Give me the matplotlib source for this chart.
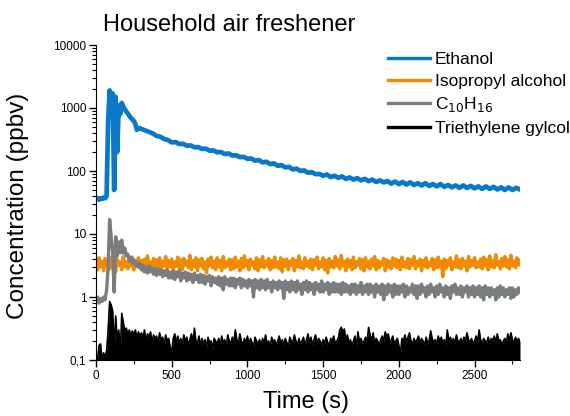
import numpy as np
import matplotlib
matplotlib.use("Agg")
import matplotlib.pyplot as plt
from matplotlib.ticker import LogLocator, FixedLocator, MultipleLocator, FuncFormatter

plt.rcParams['font.family'] = ['Liberation Sans', 'DejaVu Sans']

# ethanol: 10 s steps through the release, 25 s steps afterwards
time_eth = np.concatenate([np.arange(0, 301, 10), np.arange(325, 2801, 25)])
# the other three traces: 10 s steps
time_s = np.arange(0, 2801, 10)

ethanol = [36, 37, 35, 37, 36, 38, 37, 40, 600, 1900, 900, 1700, 50, 1500, 200, 1100,
           800, 1200, 1050, 950, 880, 820, 760, 700, 660, 620, 560, 450, 470, 480, 465,
           440, 415, 395, 360, 350, 322, 310, 285,
           288, 268, 270, 252, 255, 238, 240, 224, 226, 210, 212, 198, 200, 186, 190, 176, 178, 166, 168, 156,
           158, 146, 149, 137, 140, 129, 132, 121, 124, 114, 116, 106, 109, 100, 102, 94, 96, 89, 90, 84,
           88, 80, 84, 78, 82, 75, 79, 73, 77, 71, 75, 69, 73, 67, 71, 66, 69, 63, 68, 62,
           67, 61, 66, 60, 64, 59, 64, 58, 62, 57, 62, 56, 60, 55, 59, 54, 59, 54, 58, 53,
           57, 52, 57, 52, 56, 51, 55, 50, 55, 50, 54, 51]

isopropyl = [
    3.9, 2.7, 4.2, 3.0, 3.7, 2.6, 4.1, 3.1, 3.5, 2.8,
    4.3, 2.9, 3.8, 2.5, 4.0, 3.2, 3.6, 2.7, 4.4, 3.0,
    3.6, 2.8, 4.1, 3.1, 4.3, 2.7, 3.7, 3.0, 4.2, 2.9,
    3.8, 2.6, 4.0, 3.2, 4.5, 2.8, 3.6, 3.0, 4.1, 2.7,
    3.9, 2.9, 4.2, 2.6, 3.7, 3.1, 4.4, 2.8, 3.8, 3.0,
    4.0, 2.5, 3.6, 3.1, 4.3, 2.8, 3.9, 2.7, 4.1, 3.2,
    3.7, 2.9, 4.6, 2.7, 3.8, 3.0, 4.2, 2.6, 3.9, 3.1,
    4.1, 2.8, 3.6, 2.4, 4.0, 3.1, 4.3, 2.9, 3.7, 2.7,
    4.2, 3.0, 3.8, 2.6, 4.4, 2.9, 3.6, 3.1, 4.0, 2.7,
    3.9, 2.8, 4.3, 3.0, 3.7, 2.6, 4.1, 2.9, 4.5, 3.1,
    3.8, 2.7, 4.0, 3.2, 3.6, 2.8, 4.2, 2.6, 3.9, 3.0,
    4.4, 2.9, 3.7, 3.1, 4.1, 2.7, 3.8, 2.9, 4.3, 3.0,
    3.6, 2.8, 4.2, 2.5, 3.9, 3.1, 4.0, 2.7, 3.7, 3.2,
    4.1, 2.6, 3.8, 3.0, 4.5, 2.9, 3.6, 2.8, 4.2, 3.1,
    3.7, 2.9, 4.0, 2.7, 3.9, 3.2, 4.3, 2.8, 3.6, 3.0,
    4.2, 2.7, 3.8, 2.4, 4.1, 3.0, 3.7, 2.9, 4.4, 3.1,
    3.9, 2.8, 4.6, 3.1, 3.7, 2.6, 4.0, 3.0, 3.8, 2.7,
    4.3, 2.9, 3.6, 3.2, 4.1, 2.8, 3.9, 2.6, 4.2, 3.0,
    3.7, 2.8, 4.0, 3.1, 4.4, 2.7, 3.8, 2.9, 3.6, 3.2,
    4.1, 2.6, 3.9, 3.0, 3.7, 2.8, 4.2, 3.1, 4.0, 2.9,
    3.8, 2.7, 4.3, 3.0, 3.6, 2.9, 4.1, 2.8, 3.9, 3.2,
    4.4, 2.8, 3.7, 3.1, 4.0, 2.6, 3.8, 3.0, 4.2, 2.9,
    3.6, 3.1, 4.1, 2.7, 3.9, 2.9, 4.3, 3.0, 3.7, 2.1,
    4.0, 2.8, 3.8, 3.2, 4.2, 2.7, 3.6, 3.0, 4.5, 2.9,
    3.9, 2.8, 4.1, 3.1, 3.7, 2.6, 4.4, 3.0, 3.8, 3.2,
    4.2, 2.9, 3.6, 3.0, 4.0, 2.8, 4.3, 3.1, 3.9, 2.7,
    4.5, 3.0, 3.8, 2.9, 4.7, 3.2, 3.7, 2.8, 4.1, 3.1,
    4.4, 3.0, 3.9, 2.8, 4.6, 3.1, 3.7, 2.9, 4.2, 3.2,
    3.8]

c10h16 = [
    0.85, 1.0, 0.8, 0.95, 0.85, 1.0, 0.9, 1.3, 3.0, 17,
    9, 5, 1.2, 9, 4.5, 7.5, 5, 8, 5, 6,
    4.5, 4.8, 3.8, 4.3, 3.5, 3.9, 3.2, 3.6, 3.0, 3.4,
    2.7, 3.2, 2.5, 3.0, 2.4, 3.1, 2.5, 2.9, 2.3, 2.8,
    2.2, 2.8, 2.3, 2.7, 2.1, 2.6, 2.2, 2.7, 2.0, 2.5,
    2.0, 2.6, 1.9, 2.5, 2.1, 2.6, 1.8, 2.4, 2.0, 2.5,
    1.8, 2.4, 1.9, 2.3, 1.7, 2.4, 1.9, 2.2, 1.7, 2.3,
    1.7, 2.2, 1.6, 2.1, 1.8, 2.2, 1.5, 2.1, 1.7, 2.0,
    1.6, 2.1, 1.5, 2.0, 1.3, 2.1, 1.6, 1.9, 1.5, 2.0,
    1.5, 2.0, 1.4, 1.9, 1.6, 2.0, 1.4, 1.9, 1.5, 1.8,
    1.4, 1.9, 1.5, 1.8, 1.0, 1.9, 1.4, 1.8, 1.3, 1.9,
    1.4, 1.8, 1.3, 1.9, 1.4, 1.7, 1.2, 1.8, 1.4, 1.7,
    1.3, 1.8, 1.4, 1.7, 0.95, 1.8, 1.3, 1.7, 1.2, 1.8,
    1.3, 1.7, 1.2, 1.8, 1.3, 1.6, 1.1, 1.7, 1.3, 1.8,
    1.2, 1.7, 1.3, 1.6, 1.1, 1.7, 1.3, 1.6, 1.2, 1.8,
    1.2, 1.6, 1.3, 1.7, 1.1, 1.6, 1.2, 1.7, 1.2, 1.6,
    1.2, 1.6, 1.1, 1.7, 1.2, 1.6, 1.2, 1.5, 1.1, 1.6,
    1.2, 1.6, 1.1, 1.5, 1.2, 1.7, 1.1, 1.5, 1.2, 1.6,
    1.1, 1.6, 1.2, 1.5, 1.0, 1.6, 1.2, 1.5, 1.1, 1.6,
    0.9, 1.5, 1.1, 1.6, 1.2, 1.5, 1.0, 1.6, 1.1, 1.5,
    1.1, 1.5, 1.2, 1.6, 1.0, 1.5, 1.1, 1.4, 1.2, 1.6,
    1.1, 1.5, 0.95, 1.5, 1.1, 1.6, 1.2, 1.4, 1.0, 1.5,
    1.1, 1.6, 1.2, 1.4, 1.0, 1.5, 1.1, 1.6, 1.2, 1.4,
    1.0, 1.5, 1.1, 1.4, 0.95, 1.5, 1.2, 1.6, 1.1, 1.4,
    1.1, 1.5, 1.0, 1.4, 1.2, 1.5, 1.0, 1.4, 1.1, 1.5,
    1.0, 1.4, 1.1, 1.5, 1.0, 1.4, 0.9, 1.5, 1.1, 1.4,
    1.0, 1.4, 1.1, 1.3, 0.9, 1.4, 1.0, 1.5, 1.1, 1.4,
    1.0, 1.3, 1.1, 1.4, 0.95, 1.4, 1.0, 1.3, 1.1, 1.4,
    1.2]

teg = [
    0.12, 0.1, 0.17, 0.18, 0.1, 0.13, 0.11, 0.14, 0.3, 0.85,
    0.75, 0.6, 0.15, 0.5, 0.2, 0.3, 0.12, 0.55, 0.4, 0.3,
    0.32, 0.26, 0.3, 0.24, 0.29, 0.25, 0.3, 0.22, 0.28, 0.24,
    0.27, 0.22, 0.3, 0.2, 0.26, 0.23, 0.28, 0.19, 0.25, 0.22,
    0.24, 0.18, 0.27, 0.21, 0.23, 0.17, 0.25, 0.2, 0.22, 0.16,
    0.13, 0.22, 0.26, 0.19, 0.24, 0.18, 0.22, 0.17, 0.25, 0.2,
    0.23, 0.17, 0.21, 0.26, 0.19, 0.32, 0.2, 0.18, 0.24, 0.17,
    0.22, 0.18, 0.21, 0.16, 0.23, 0.19, 0.2, 0.15, 0.22, 0.2,
    0.18, 0.22, 0.17, 0.24, 0.19, 0.21, 0.16, 0.25, 0.2, 0.18,
    0.23, 0.19, 0.3, 0.21, 0.18, 0.26, 0.2, 0.17, 0.22, 0.19,
    0.24, 0.17, 0.22, 0.19, 0.16, 0.23, 0.2, 0.18, 0.21, 0.17,
    0.22, 0.19, 0.25, 0.18, 0.2, 0.16, 0.23, 0.19, 0.21, 0.17,
    0.2, 0.24, 0.18, 0.21, 0.17, 0.22, 0.19, 0.16, 0.23, 0.2,
    0.19, 0.25, 0.2, 0.17, 0.22, 0.18, 0.2, 0.23, 0.17, 0.21,
    0.26, 0.19, 0.23, 0.17, 0.21, 0.25, 0.18, 0.22, 0.2, 0.17,
    0.21, 0.18, 0.23, 0.19, 0.17, 0.22, 0.2, 0.24, 0.18, 0.2,
    0.22, 0.3, 0.33, 0.28, 0.31, 0.2, 0.25, 0.18, 0.21, 0.17,
    0.2, 0.24, 0.16, 0.28, 0.19, 0.22, 0.18, 0.2, 0.23, 0.19,
    0.33, 0.25, 0.2, 0.27, 0.18, 0.22, 0.2, 0.17, 0.21, 0.24,
    0.2, 0.28, 0.23, 0.26, 0.19, 0.21, 0.24, 0.18, 0.2, 0.22,
    0.17, 0.12, 0.22, 0.2, 0.25, 0.19, 0.23, 0.27, 0.2, 0.18,
    0.22, 0.19, 0.21, 0.24, 0.18, 0.22, 0.2, 0.17, 0.23, 0.19,
    0.2, 0.29, 0.22, 0.19, 0.21, 0.18, 0.24, 0.2, 0.23, 0.19,
    0.21, 0.17, 0.3, 0.2, 0.23, 0.19, 0.22, 0.18, 0.25, 0.2,
    0.19, 0.22, 0.18, 0.23, 0.2, 0.27, 0.21, 0.19, 0.22, 0.18,
    0.2, 0.24, 0.19, 0.3, 0.21, 0.18, 0.22, 0.2, 0.19, 0.23,
    0.18, 0.22, 0.2, 0.24, 0.19, 0.26, 0.2, 0.21, 0.17, 0.2,
    0.22, 0.19, 0.26, 0.2, 0.27, 0.21, 0.19, 0.23, 0.2, 0.22,
    0.2]

fig = plt.figure(figsize=(5.7, 4.16), dpi=100)
ax = fig.add_axes([96/570, 56/416, 424/570, 315/416])

ax.plot(time_eth, ethanol, color="#0a78c8", lw=3.4, label="Ethanol")
ax.plot(time_s, isopropyl, color="#f28a00", lw=2.4, label="Isopropyl alcohol")
ax.plot(time_s, c10h16, color="#7a7d7d", lw=2.4, label=r"C$_{10}$H$_{16}$")
ax.fill_between(time_s, 0.05, teg, color="black", lw=0)
ax.plot(time_s, teg, color="black", lw=1.2, label="Triethylene gylcol")

ax.set_yscale("log")
ax.set_ylim(0.1, 10000)
ax.set_xlim(0, 2800)
ax.xaxis.set_major_locator(FixedLocator([0, 500, 1000, 1500, 2000, 2500]))
ax.xaxis.set_minor_locator(MultipleLocator(250))
ax.yaxis.set_major_locator(LogLocator(base=10))
ax.yaxis.set_minor_locator(LogLocator(base=10, subs=np.arange(2, 10)))
ax.yaxis.set_major_formatter(FuncFormatter(lambda v, p: "0,1" if v < 0.5 else f"{v:.0f}"))
ax.tick_params(which="major", length=5, width=1, labelsize=8.5, pad=2)
ax.tick_params(which="minor", length=3, width=0.8)
ax.spines["top"].set_visible(False)
ax.spines["right"].set_visible(False)

fig.text(103/570, 1 - 31/416, "Household air freshener", fontsize=17, va="baseline")
fig.text(18/570, 1 - 206/416, "Concentration (ppbv)", fontsize=17.5, rotation=90,
         ha="center", va="center")
fig.text(306/570, 1 - 408/416, "Time (s)", fontsize=17, ha="center", va="baseline")

leg = ax.legend(loc="upper left", bbox_to_anchor=(388/570, 1 - 52/416),
                bbox_transform=fig.transFigure, frameon=False, fontsize=12.5,
                handlelength=2.4, handletextpad=0.3, labelspacing=0.38,
                borderpad=0, borderaxespad=0)
for h in leg.get_lines():
    h.set_linewidth(2.4)

fig.savefig("out.png", dpi=100)
